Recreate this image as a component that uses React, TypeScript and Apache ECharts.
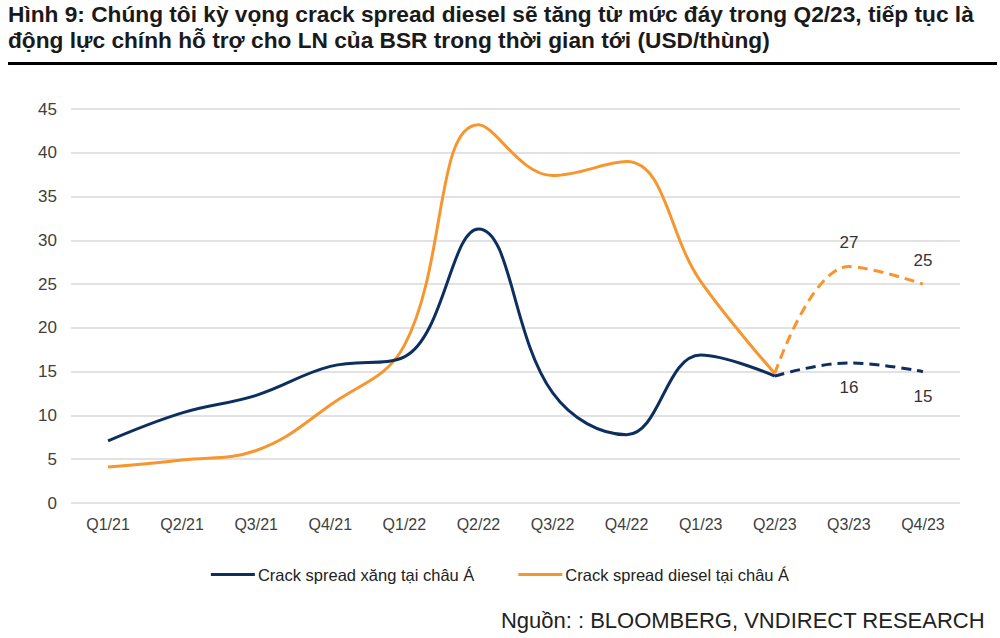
import React, { useEffect, useRef } from "react";
import * as echarts from "echarts";

const categories = ["Q1/21", "Q2/21", "Q3/21", "Q4/21", "Q1/22", "Q2/22", "Q3/22", "Q4/22", "Q1/23", "Q2/23", "Q3/23", "Q4/23"];
const gasolineActual = [7.1, 10.3, 12.3, 15.6, 16.7, 31.3, 12.6, 7.8, 16.9, 14.5, null, null];
const gasolineForecast = [null, null, null, null, null, null, null, null, null, 14.5, 16, 15];
const dieselActual = [4.1, 4.9, 6.0, 11.2, 18.0, 43.2, 37.4, 39.0, 25.3, 14.8, null, null];
const dieselForecast = [null, null, null, null, null, null, null, null, null, 14.8, 27, 25];
const yTicks = { min: 0, max: 45, interval: 5 };

const NAVY = "#0d2f5f";
const ORANGE = "#f7962f";

export default function App() {
  const ref = useRef<HTMLDivElement>(null);
  useEffect(() => {
    document.body.style.margin = "0";
    const chart = echarts.init(ref.current!, null, { renderer: "svg" });
    const labelFmt = (p: any) => (p.dataIndex >= 10 ? String(p.value) : "");
    chart.setOption({
      animation: false,
      backgroundColor: "#ffffff",
      textStyle: { fontFamily: "Liberation Sans, Arial, sans-serif" },
      graphic: [
        {
          type: "text",
          left: 8,
          top: 1,
          style: {
            text: "Hình 9: Chúng tôi kỳ vọng crack spread diesel sẽ tăng từ mức đáy trong Q2/23, tiếp tục là\nđộng lực chính hỗ trợ cho LN của BSR trong thời gian tới (USD/thùng)",
            font: "bold 22.7px 'Liberation Sans', Arial, sans-serif",
            fill: "#1a1a1a",
            lineHeight: 26,
          },
        },
        {
          type: "rect",
          shape: { x: 8, y: 62, width: 989, height: 3 },
          style: { fill: "#000000" },
        },
        {
          type: "text",
          right: 15,
          top: 609,
          style: {
            text: "Nguồn: : BLOOMBERG, VNDIRECT RESEARCH",
            font: "22px 'Liberation Sans', Arial, sans-serif",
            fill: "#222222",
          },
        },
      ],
      grid: { left: 71, right: 40, top: 109, bottom: 135 },
      legend: {
        data: ["Crack spread xăng tại châu Á", "Crack spread diesel tại châu Á"],
        top: 561,
        left: "center",
        itemWidth: 44,
        itemHeight: 3,
        itemGap: 44,
        textStyle: { fontSize: 16.5, color: "#222", padding: [0, 0, 0, -2] },
        icon: "rect",
      },
      xAxis: {
        type: "category",
        data: categories,
        axisLine: { show: false },
        axisTick: { show: false },
        axisLabel: { fontSize: 16, color: "#404040", margin: 13 },
      },
      yAxis: {
        type: "value",
        min: yTicks.min,
        max: yTicks.max,
        interval: yTicks.interval,
        axisLabel: { fontSize: 17, color: "#404040", margin: 14 },
        splitLine: { lineStyle: { color: "#d9d9d9", width: 1.5 } },
      },
      series: [
        {
          name: "Crack spread xăng tại châu Á",
          type: "line",
          data: gasolineActual,
          smooth: 0.4,
          symbol: "none",
          lineStyle: { color: NAVY, width: 3 },
          itemStyle: { color: NAVY },
          z: 3,
        },
        {
          name: "Crack spread diesel tại châu Á",
          type: "line",
          data: dieselActual,
          smooth: 0.4,
          symbol: "none",
          lineStyle: { color: ORANGE, width: 3 },
          itemStyle: { color: ORANGE },
          z: 2,
        },
        {
          name: "gasForecast",
          type: "line",
          data: gasolineForecast,
          smooth: 0.4,
          symbol: "circle",
          symbolSize: 1,
          showSymbol: true,
          itemStyle: { color: "rgba(0,0,0,0)" },
          lineStyle: { color: NAVY, width: 3, type: [10, 6] },
          label: { show: true, position: "bottom", distance: 16, formatter: labelFmt, fontSize: 17, color: "#333" },
          z: 3,
        },
        {
          name: "dieselForecast",
          type: "line",
          data: dieselForecast,
          smooth: 0.4,
          symbol: "circle",
          symbolSize: 1,
          showSymbol: true,
          itemStyle: { color: "rgba(0,0,0,0)" },
          lineStyle: { color: ORANGE, width: 3, type: [10, 6] },
          label: { show: true, position: "top", distance: 15, formatter: labelFmt, fontSize: 17, color: "#333" },
          z: 2,
        },
      ],
    });
    return () => chart.dispose();
  }, []);
  return <div ref={ref} style={{ width: 1000, height: 638 }} />;
}
